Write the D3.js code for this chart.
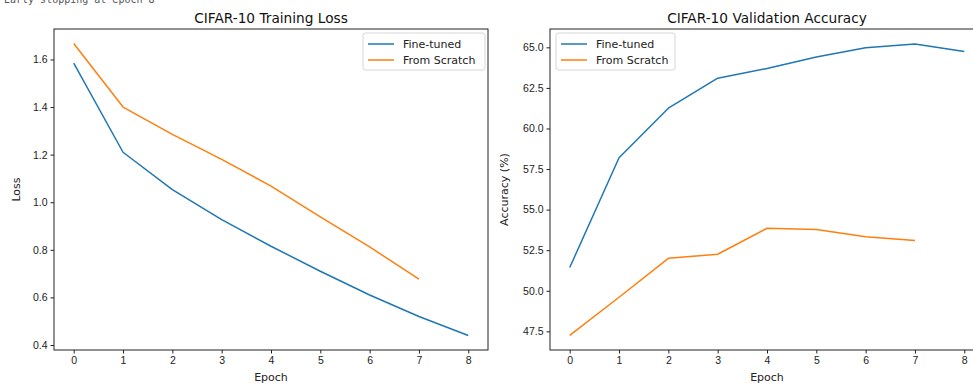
<!DOCTYPE html>
<html>
<head>
<meta charset="utf-8">
<script src="https://cdn.jsdelivr.net/npm/d3@7"></script>
<style>
  body { margin: 0; background: #fff; }
  svg { display: block; font-family: "DejaVu Sans", sans-serif; }
  .tick text { font-size: 10.5px; fill: #222; }
  .tick line, .domain { stroke: #222; }
</style>
</head>
<body>
<div id="chart"></div>
<script>
// values
var epochs = [0, 1, 2, 3, 4, 5, 6, 7, 8]
var lossFine = [1.585, 1.21, 1.053, 0.927, 0.815, 0.71, 0.61, 0.52, 0.44]
var lossScratch = [1.667, 1.40, 1.285, 1.18, 1.068, 0.938, 0.812, 0.677]
var accFine = [51.43, 58.2, 61.25, 63.1, 63.7, 64.4, 64.98, 65.2, 64.75]
var accScratch = [47.25, 49.6, 52.0, 52.25, 53.85, 53.78, 53.33, 53.1]
var lossTicks = [0.4, 0.6, 0.8, 1.0, 1.2, 1.4, 1.6]
var accTicks = [47.5, 50.0, 52.5, 55.0, 57.5, 60.0, 62.5, 65.0]
var seriesNames = ['Fine-tuned', 'From Scratch']
var colors = ['#1f77b4', '#ff7f0e']

var width = 973, height = 383

var svg = d3.select('#chart').append('svg')
    .attr('width', width)
    .attr('height', height)

// notebook output line, cut off at the top like in the screenshot
svg.append('text')
    .attr('x', 4)
    .attr('y', 3)
    .attr('font-family', 'DejaVu Sans Mono, monospace')
    .attr('font-size', 10)
    .attr('fill', '#555')
    .text('Early stopping at epoch 8')

function drawPanel(opts) {
    var x = d3.scaleLinear().domain([-0.4, 8.4]).range([opts.left, opts.left + 434])
    var y = d3.scaleLinear().domain(opts.yDomain).range([350, 29])

    var g = svg.append('g')

    var line = d3.line()
        .x(function(d, i) { return x(epochs[i]) })
        .y(function(d) { return y(d) })

    opts.series.forEach(function(s, i) {
        g.append('path')
            .datum(s)
            .attr('d', line)
            .attr('fill', 'none')
            .attr('stroke', colors[i])
            .attr('stroke-width', 1.5)
            .attr('stroke-linejoin', 'round')
    })

    g.append('g')
        .attr('transform', 'translate(0,350)')
        .call(d3.axisBottom(x).tickValues(epochs).tickSize(3.5).tickPadding(3).tickSizeOuter(0))
    g.append('g')
        .attr('transform', 'translate(' + opts.left + ',0)')
        .call(d3.axisLeft(y).tickValues(opts.yTicks).tickFormat(d3.format(opts.fmt)).tickSize(3.5).tickPadding(3).tickSizeOuter(0))

    // frame
    g.append('rect')
        .attr('x', opts.left).attr('y', 29)
        .attr('width', 434).attr('height', 321)
        .attr('fill', 'none').attr('stroke', '#222').attr('stroke-width', 1)
    g.selectAll('.domain').remove()

    g.append('text')
        .attr('x', opts.left + 217).attr('y', 23)
        .attr('text-anchor', 'middle')
        .attr('font-size', 13.7)
        .attr('fill', '#111')
        .text(opts.title)
    g.append('text')
        .attr('x', opts.left + 217).attr('y', 381)
        .attr('text-anchor', 'middle')
        .attr('font-size', 11)
        .attr('fill', '#222')
        .text('Epoch')
    g.append('text')
        .attr('transform', 'translate(' + opts.ylabelX + ',189.5) rotate(-90)')
        .attr('text-anchor', 'middle')
        .attr('font-size', 11)
        .attr('fill', '#222')
        .text(opts.ylabel)

    // legend
    var lg = g.append('g').attr('transform', 'translate(' + opts.legendX + ',' + opts.legendY + ')')
    lg.append('rect')
        .attr('width', opts.legendW).attr('height', 37)
        .attr('rx', 2.5)
        .attr('fill', '#fff').attr('fill-opacity', 0.8)
        .attr('stroke', '#d6d6d6')
    seriesNames.forEach(function(name, i) {
        var yy = 11 + i * 16
        lg.append('line')
            .attr('x1', 5).attr('x2', 31)
            .attr('y1', yy).attr('y2', yy)
            .attr('stroke', colors[i]).attr('stroke-width', 1.5)
        lg.append('text')
            .attr('x', 40).attr('y', yy + 4)
            .attr('font-size', 11)
            .attr('fill', '#222')
            .text(name)
    })
}

drawPanel({
    left: 54, yDomain: [0.379, 1.728], yTicks: lossTicks, fmt: '.1f',
    series: [lossFine, lossScratch], title: 'CIFAR-10 Training Loss', ylabel: 'Loss',
    ylabelX: 20, legendX: 363, legendY: 33, legendW: 122
})
drawPanel({
    left: 550, yDomain: [46.35, 66.13], yTicks: accTicks, fmt: '.1f',
    series: [accFine, accScratch], title: 'CIFAR-10 Validation Accuracy', ylabel: 'Accuracy (%)',
    ylabelX: 508, legendX: 556, legendY: 33, legendW: 119
})
</script>
</body>
</html>
